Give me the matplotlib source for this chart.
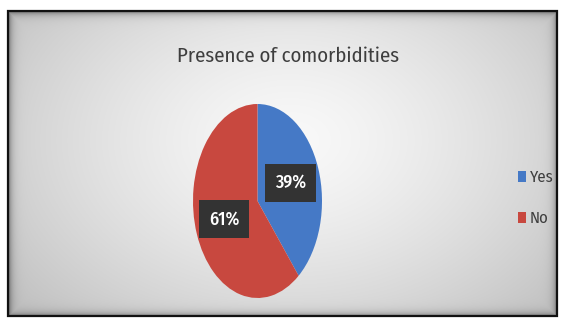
import numpy as np
import matplotlib
matplotlib.use('Agg')
import matplotlib.pyplot as plt
from matplotlib.patches import Rectangle

title = 'Presence of comorbidities'
labels = ['Yes', 'No']
values = [39, 61]
colors = ['#4579c6', '#c8483f']

FONT = ['Fira Sans Condensed', 'Asap Condensed', 'DejaVu Sans']

W, H = 566, 322
fig = plt.figure(figsize=(W / 100, H / 100), dpi=100)
fig.patch.set_facecolor('white')

# background: light radial gradient inside a framed box
bg = fig.add_axes([0, 0, 1, 1])
bg.set_xlim(0, W)
bg.set_ylim(H, 0)
bg.axis('off')
x0, x1, y0, y1 = 8, 557, 11, 316
xx, yy = np.meshgrid(np.arange(x0, x1), np.arange(y0, y1))
r = np.sqrt(((xx - 290) / 300) ** 2 + ((yy - 140) / 210) ** 2)
g = 0.975 - 0.17 * np.clip(r, 0, 1.2) ** 1.4
edge = np.minimum.reduce([xx - x0, x1 - xx, yy - y0, y1 - yy]).astype(float)
g -= 0.35 * np.exp(-edge / 3.5)
img = np.dstack([g, g, g])
bg.imshow(img, extent=(x0, x1, y1, y0), aspect='auto', interpolation='bilinear')
bg.add_patch(Rectangle((x0, y0), x1 - x0, y1 - y0, fill=False, edgecolor='#111111', lw=1.6))

# pie stretched vertically like the original
ax = fig.add_axes([193 / W, (H - 298) / H, 129 / W, 194 / H])
wedges, texts, autotexts = ax.pie(values, colors=colors, startangle=90, counterclock=False,
                                  autopct='%d%%', pctdistance=0.55,
                                  wedgeprops=dict(linewidth=0))
ax.set_aspect('auto')
ax.set_xlim(-1, 1)
ax.set_ylim(-1, 1)
for t in autotexts:
    t.set_color('white')
    t.set_fontsize(13)
    t.set_fontweight('medium')
    t.set_family(FONT)
    t.set_bbox(dict(boxstyle='square,pad=0.55', facecolor='#333333', edgecolor='none'))

fig.text(288 / W, 1 - 56 / H, title, ha='center', va='center', fontsize=15, color='#3e3e3e',
         family=FONT)

leg = fig.legend(wedges, labels, loc='center left', bbox_to_anchor=(503 / W, 1 - 198 / H),
                 frameon=False, handlelength=0.45, handleheight=0.6, handletextpad=0.25,
                 labelspacing=1.5, prop={'family': FONT, 'size': 12})
for t in leg.get_texts():
    t.set_color('#3e3e3e')

fig.savefig('out.png', dpi=100)
